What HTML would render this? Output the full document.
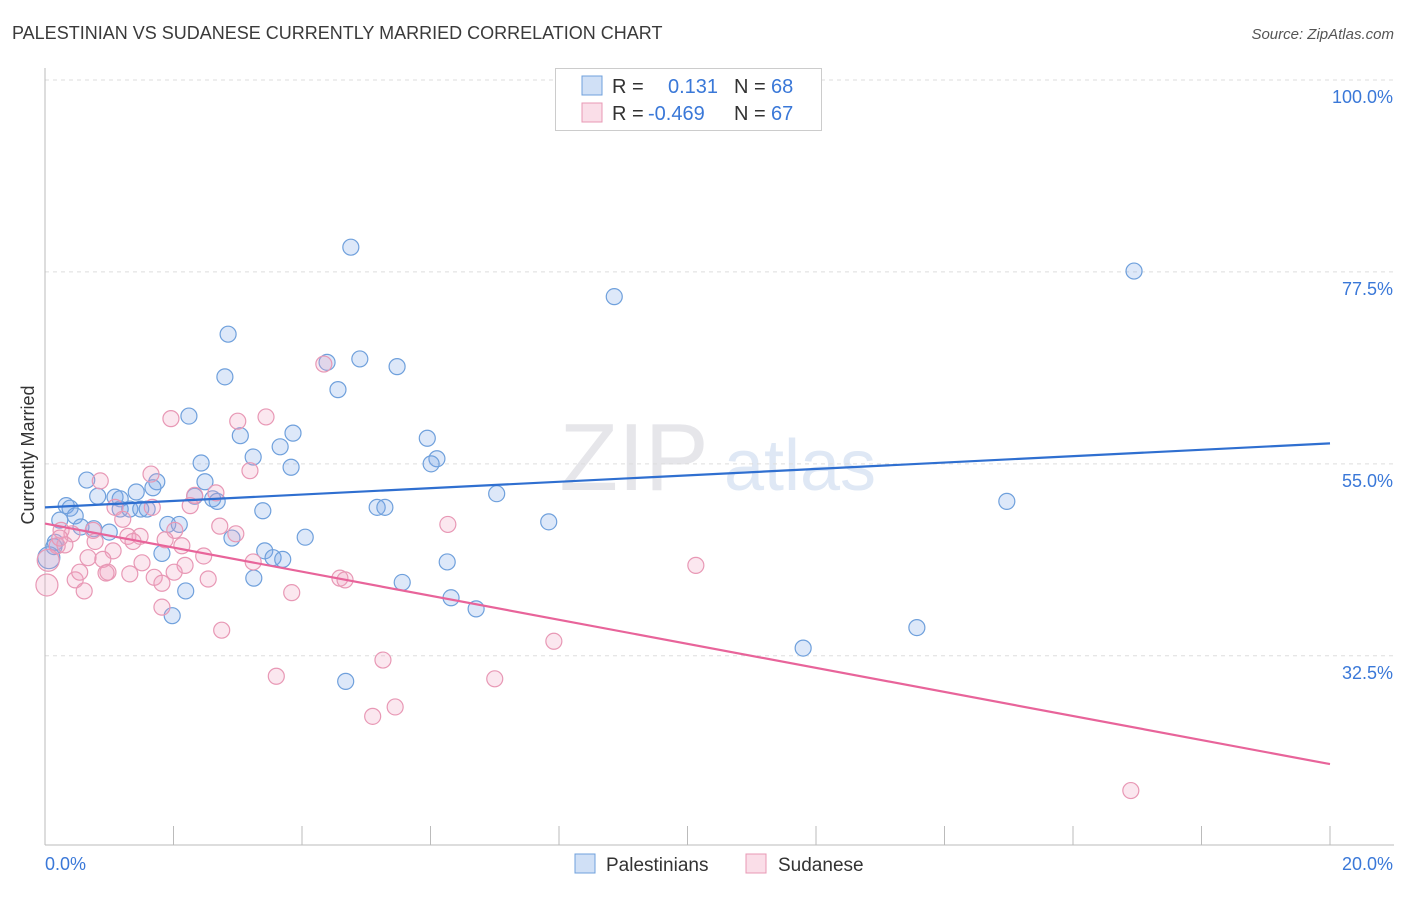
<!DOCTYPE html>
<html><head><meta charset="utf-8">
<style>
body{margin:0;background:#fff;font-family:"Liberation Sans",sans-serif;}
svg text{font-family:"Liberation Sans",sans-serif;}
</style></head>
<body>
<svg id="chart" width="1406" height="892" viewBox="0 0 1406 892" xmlns="http://www.w3.org/2000/svg">
<text x="12" y="39" font-size="18" fill="#3a3a3a">PALESTINIAN VS SUDANESE CURRENTLY MARRIED CORRELATION CHART</text>
<text x="1394" y="39" font-size="15" fill="#555" text-anchor="end" font-style="italic">Source: ZipAtlas.com</text>
<text x="634" y="490" font-size="96" fill="#e6e6ea" font-family="Liberation Serif" text-anchor="middle">ZIP</text>
<text x="800" y="490" font-size="72" fill="#dfe8f5" text-anchor="middle">atlas</text>
<g id="grid"></g>
<g id="axes"></g>
<g id="pts"></g>
<g id="lines"></g>
<text x="34" y="455" font-size="18" fill="#333" text-anchor="middle" transform="rotate(-90 34 455)">Currently Married</text>
<g>
<rect x="555.5" y="68.5" width="266" height="62" fill="#fff" stroke="#ccc"/>
<rect x="582" y="76" width="20" height="19" fill="rgba(120,165,230,0.35)" stroke="#6fa0dc"/>
<rect x="582" y="103" width="20" height="19" fill="rgba(240,160,190,0.35)" stroke="#e898b5"/>
<text x="612" y="93" font-size="20" fill="#333">R = </text><text x="668" y="93" font-size="20" fill="#3a78d8">0.131</text>
<text x="734" y="93" font-size="20" fill="#333">N = </text><text x="771" y="93" font-size="20" fill="#3a78d8">68</text>
<text x="612" y="120" font-size="20" fill="#333">R = </text><text x="648" y="120" font-size="20" fill="#3a78d8">-0.469</text>
<text x="734" y="120" font-size="20" fill="#333">N = </text><text x="771" y="120" font-size="20" fill="#3a78d8">67</text>
</g>
<g>
<rect x="575" y="854" width="20" height="19" fill="rgba(120,165,230,0.35)" stroke="#6fa0dc"/>
<text x="606" y="871" font-size="19" fill="#333">Palestinians</text>
<rect x="746" y="854" width="20" height="19" fill="rgba(240,160,190,0.35)" stroke="#e898b5"/>
<text x="778" y="871" font-size="19" fill="#333">Sudanese</text>
</g>
</svg>
<script>
const yTicks=[100,77.5,55,32.5];
const yTickLabels=["100.0%","77.5%","55.0%","32.5%"];
const xTickLabels=["0.0%","20.0%"];
const blueX=[4.76,16.95,8.86,2.85,2.80,4.90,5.48,4.39,4.56,2.24,3.04,3.86,3.66,5.95,2.43,3.83,6.10,6.01,3.24,0.65,2.49,1.74,1.68,1.42,0.82,1.09,1.17,2.33,2.61,2.68,0.33,0.39,1.17,1.32,1.49,1.59,3.39,5.17,5.29,7.03,14.97,7.84,0.23,0.47,1.91,2.09,0.56,0.76,1.00,2.91,4.05,0.16,0.14,1.82,3.42,3.55,3.70,6.26,3.25,5.56,2.19,6.32,6.71,1.98,13.57,11.80,4.68,0.06];
const blueY=[80.4,77.6,74.6,70.2,65.2,67.3,66.4,66.9,63.7,60.6,58.3,58.6,57.0,58.0,55.1,54.6,55.6,55.0,55.8,53.1,52.9,52.9,52.2,51.7,51.2,51.1,50.9,51.2,50.9,50.6,50.1,49.8,49.7,49.7,49.7,49.7,49.5,49.9,49.9,51.5,50.6,48.2,48.4,48.9,47.9,47.9,47.6,47.4,47.0,46.3,46.4,45.8,45.3,44.5,44.8,44.0,43.8,43.5,41.6,41.1,40.1,39.3,38.0,37.2,35.8,33.4,29.5,44.0];
const pinkX=[4.34,1.96,3.00,3.44,1.65,0.86,3.19,2.33,2.66,2.26,1.67,1.09,1.21,0.25,2.72,2.97,2.02,1.29,1.48,6.27,0.75,0.42,0.78,1.37,0.19,0.31,1.87,2.13,1.06,0.67,2.47,0.90,1.51,2.18,2.01,0.98,1.32,0.95,1.70,0.47,0.54,2.54,1.82,3.24,4.59,4.67,10.13,0.61,3.84,1.82,2.75,7.92,5.26,3.60,7.00,5.10,5.45,16.90,0.03,0.05,0.23];
const pinkY=[66.7,60.3,60.0,60.5,53.8,53.0,54.2,51.3,51.6,50.1,49.9,49.9,48.5,47.2,47.7,46.8,47.2,46.5,46.5,47.9,47.2,46.8,45.9,45.9,45.4,45.5,46.1,45.4,44.8,44.0,44.2,43.8,43.4,43.1,42.3,42.3,42.1,42.2,41.7,41.4,42.3,41.5,41.0,43.5,41.6,41.4,43.1,40.1,39.9,38.2,35.5,34.2,32.0,30.1,29.8,25.4,26.5,16.7,40.8,43.7,46.3];
const blueTrend=[49.9,57.4];
const pinkTrend=[48.0,19.8];

const NS="http://www.w3.org/2000/svg";
const X=v=>45+v/20*1285;
const Y=v=>80+(100-v)*8.53;
function mk(tag,attrs,parent){const e=document.createElementNS(NS,tag);for(const k in attrs)e.setAttribute(k,attrs[k]);parent.appendChild(e);return e;}
const grid=document.getElementById('grid'),axes=document.getElementById('axes'),pts=document.getElementById('pts'),lines=document.getElementById('lines');
yTicks.forEach((t,i)=>{
 const l=mk('line',{x1:45,x2:1394,y1:Y(t),y2:Y(t),stroke:'#ddd','stroke-dasharray':'4,4'},grid);
 
 
 const tx=mk('text',{x:1393,y:Y(t)+23,'font-size':18,fill:'#3a78d8','text-anchor':'end'},axes);
 tx.textContent=yTickLabels[i];
 
 
});
const ax=mk('line',{x1:45,x2:45,y1:68,y2:845,stroke:'#bbb'},axes);


const bx=mk('line',{x1:45,x2:1394,y1:845,y2:845,stroke:'#bbb'},axes);


for(let i=0;i<=10;i++){
 const tk=mk('line',{x1:X(i*2),x2:X(i*2),y1:826,y2:845,stroke:'#bbb'},axes);
 
 
}
const xl0=mk('text',{x:45,y:870,'font-size':18,fill:'#3a78d8'},axes);xl0.textContent=xTickLabels[0];


const xl1=mk('text',{x:1393,y:870,'font-size':18,fill:'#3a78d8','text-anchor':'end'},axes);xl1.textContent=xTickLabels[1];


function dots(xs,ys,fill,stroke,name){
 xs.forEach((v,i)=>{
  const c=mk('circle',{cx:X(v),cy:Y(ys[i]),r:(v<0.1?11:8),fill:fill,stroke:stroke,'stroke-width':1.2},pts);
  
  
 });
}
dots(blueX,blueY,'rgba(120,165,230,0.25)','#6fa0dc','palestinian-point');
dots(pinkX,pinkY,'rgba(240,160,190,0.25)','#e898b5','sudanese-point');
const bl=mk('line',{x1:X(0),y1:Y(blueTrend[0]),x2:X(20),y2:Y(blueTrend[1]),stroke:'#2f6fd0','stroke-width':2.2},lines);


const pl=mk('line',{x1:X(0),y1:Y(pinkTrend[0]),x2:X(20),y2:Y(pinkTrend[1]),stroke:'#e8649a','stroke-width':2.2},lines);


</script>
</body></html>
